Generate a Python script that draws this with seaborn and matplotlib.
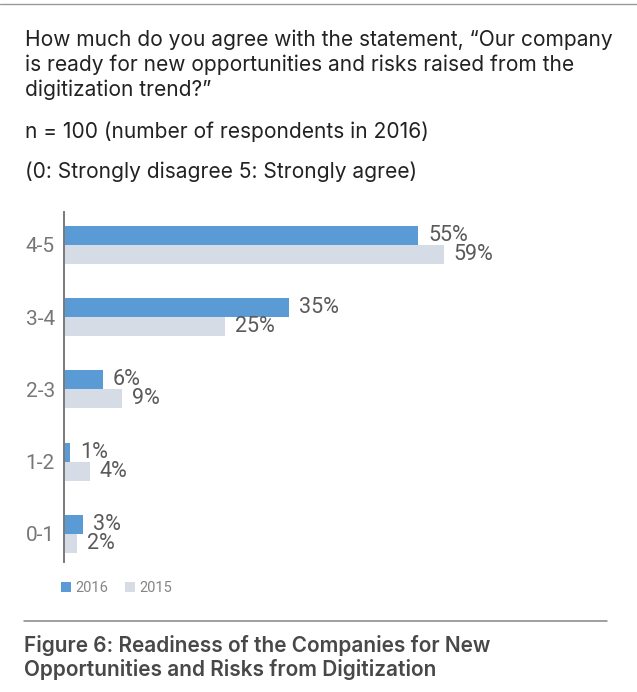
import matplotlib
matplotlib.use("Agg")
import matplotlib.pyplot as plt
from matplotlib import font_manager
from matplotlib.lines import Line2D
from matplotlib.patches import Patch
import seaborn as sns
import pandas as pd

# Survey data
categories = ["4-5", "3-4", "2-3", "1-2", "0-1"]
years = ["2016", "2015"]
values_2016 = [55, 35, 6, 1, 3]
values_2015 = [59, 25, 9, 4, 2]
colors = {"2016": "#5B9BD5", "2015": "#D6DCE5"}

title_lines = [
    "How much do you agree with the statement, \u201cOur company",
    "is ready for new opportunities and risks raised from the",
    "digitization trend?\u201d",
]
sample_note = "n = 100 (number of respondents in 2016)"
scale_note = "(0: Strongly disagree 5: Strongly agree)"
caption_lines = [
    "Figure 6: Readiness of the Companies for New",
    "Opportunities and Risks from Digitization",
]

df = pd.DataFrame({
    "score": categories * 2,
    "year": [years[0]] * len(categories) + [years[1]] * len(categories),
    "pct": values_2016 + values_2015,
})

sns.set_theme(style="white")

installed = {f.name for f in font_manager.fontManager.ttflist}
def pick(*names):
    for n in names:
        if n in installed:
            return n
    return "DejaVu Sans"

text_font = pick("Inter", "Roboto", "Open Sans", "DejaVu Sans")
narrow_font = pick("Liberation Sans Narrow", "Roboto", "Liberation Sans")
plt.rcParams["font.family"] = [text_font, "DejaVu Sans"]

W, H = 637, 692
fig = plt.figure(figsize=(W / 100, H / 100), dpi=100)

def fx(px):
    return px / W

def fy(py):
    return 1 - py / H

# Axes box: spine from y=212 to y=562, starting at x=64
left, right, top, bottom = 64, 620, 212, 562
ax = fig.add_axes([fx(left), fy(bottom), fx(right - left), (bottom - top) / H])

sns.barplot(data=df, y="score", x="pct", hue="year", order=categories,
            hue_order=years, palette=colors, orient="h", width=0.526,
            saturation=1, ax=ax, legend=False, linewidth=0)

ax.set_xlim(0, (right - left) / 6.44)
ax.set_ylim(4.39, -0.457)
ax.set_xlabel("")
ax.set_ylabel("")
ax.set_xticks([])
for s in ["top", "right", "bottom"]:
    ax.spines[s].set_visible(False)
ax.spines["left"].set_color("#7a7a7a")
ax.spines["left"].set_linewidth(1.4)
ax.tick_params(axis="y", length=0, pad=6.5)
for lab in ax.get_yticklabels():
    lab.set_fontfamily(narrow_font)
    lab.set_fontsize(15)
    lab.set_color("#777777")

for cont in ax.containers:
    ax.bar_label(cont, labels=[f"{v:.0f}%" for v in cont.datavalues],
                 padding=7, fontsize=15.5, color="#5a5a5a",
                 fontfamily=narrow_font)

# Legend with small square swatches
handles = [Patch(facecolor=colors[y], edgecolor="none", label=y) for y in years]
leg = fig.legend(handles=handles, loc="upper left",
                 bbox_to_anchor=(fx(61), fy(581)), ncol=2, frameon=False,
                 handlelength=0.7, handleheight=0.7,
                 handletextpad=0.3, columnspacing=1.1, borderpad=0,
                 borderaxespad=0, prop={"family": narrow_font, "size": 10.5})
for t in leg.get_texts():
    t.set_color("#858585")

# Heading text
for txt, yb in zip(title_lines, [46, 71, 96]):
    fig.text(fx(25), fy(yb), txt, fontsize=15.1, color="#222222", va="baseline")
fig.text(fx(25), fy(138), sample_note, fontsize=15.1, color="#222222", va="baseline")
fig.text(fx(25), fy(178), scale_note, fontsize=15.1, color="#222222", va="baseline")

# Caption
for txt, yb in zip(caption_lines, [652, 676]):
    fig.text(fx(24), fy(yb), txt, fontsize=15, color="#484848",
             va="baseline", fontweight="semibold")

# Rules
fig.add_artist(Line2D([0, 1], [fy(3.5), fy(3.5)], color="#9a9a9a", lw=1.0))
fig.add_artist(Line2D([fx(24), fx(607)], [fy(621), fy(621)], color="#858585", lw=1.1))

fig.savefig("out.png", dpi=100)
